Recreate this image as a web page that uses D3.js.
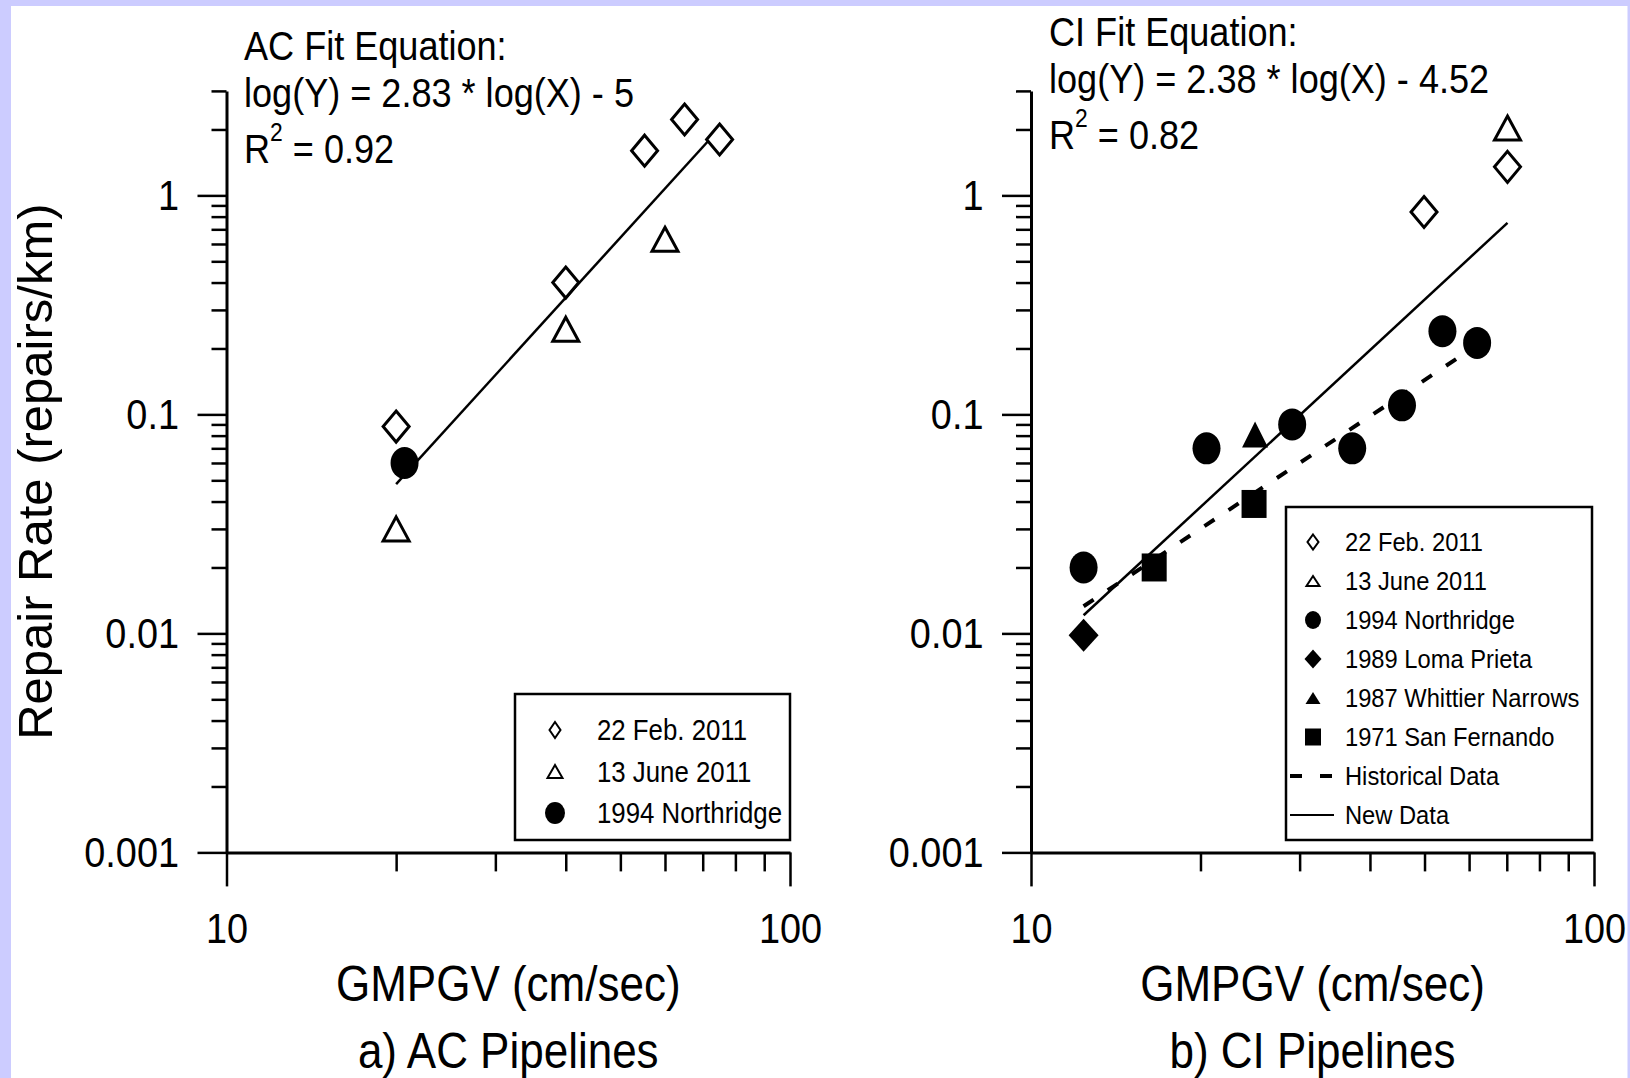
<!DOCTYPE html>
<html>
<head>
<meta charset="utf-8">
<script src="https://cdn.jsdelivr.net/npm/d3@7"></script>
<style>
  html, body { margin: 0; padding: 0; background: #ccccff; }
  svg { display: block; }
  text { font-family: "Liberation Sans", Arial, sans-serif; fill: #000; }
</style>
</head>
<body>
<div id="chart"></div>
<script>
// --- DONNEES ---

const xMajorTicks = [10, 100];
const xTickLabels = ["10", "100"];
const yMajorTicks = [0.001, 0.01, 0.1, 1];
const yTickLabels = ["0.001", "0.01", "0.1", "1"];

// a) AC : [GMPGV, taux de réparation]
const acFeb2011 = [[20, 0.088], [40, 0.40], [55.2, 1.6], [65, 2.22], [75, 1.8]];
const acJune2011 = [[20, 0.03], [40, 0.245], [60, 0.63]];
const acNorthridge = [[20.7, 0.06]];
const acFitLine = [[20, 0.048], [75, 2.02]];

// b) CI
const ciFeb2011 = [[49.9, 0.84], [70.2, 1.35]];
const ciJune2011 = [[70.2, 2.03]];
const ciNorthridge = [[12.4, 0.02], [20.5, 0.07], [29.1, 0.09], [37.2, 0.07], [45.6, 0.11], [53.8, 0.24], [62, 0.212]];
const ciLomaPrieta = [[12.4, 0.0098]];
const ciWhittier = [[25, 0.081]];
const ciSanFernando = [[16.55, 0.02], [24.9, 0.039]];
const ciNewFit = [[12.4, 0.0121], [70.2, 0.749]];
const ciHistoricalFit = [[12.4, 0.0133], [62, 0.207]];

const acEquation = ["AC Fit Equation:", "log(Y) = 2.83 * log(X) - 5", " = 0.92"];
const ciEquation = ["CI Fit Equation:", "log(Y) = 2.38 * log(X) - 4.52", " = 0.82"];
const acLegend = ["22 Feb. 2011", "13 June 2011", "1994 Northridge"];
const ciLegend = ["22 Feb. 2011", "13 June 2011", "1994 Northridge", "1989 Loma Prieta",
                  "1987 Whittier Narrows", "1971 San Fernando", "Historical Data", "New Data"];
const xTitle = "GMPGV (cm/sec)";
const yTitle = "Repair Rate (repairs/km)";
const panelTitles = ["a) AC Pipelines", "b) CI Pipelines"];


// --- DESSIN ---

const W = 1630, H = 1078;
const narrow = 0.88;   // police étroite façon Arial Narrow

const svg = d3.select("#chart").append("svg")
    .attr("width", W)
    .attr("height", H);

svg.append("rect").attr("x", 11).attr("y", 6).attr("width", W - 11).attr("height", H - 6).attr("fill", "#fff");

const yScale = d3.scaleLog().domain([0.001, 3]).range([852.4, 90.9]);
const axisY = yScale(0.001);

/**
 * Texte compressé horizontalement
 */
function label(g, x, y, str, size, anchor, sx) {
    return g.append("text")
        .attr("transform", "translate(" + x + "," + y + ") scale(" + sx + ",1)")
        .attr("text-anchor", anchor)
        .style("font-size", size + "px")
        .text(str);
}

/**
 * Dessin d'un marqueur centré sur (cx, cy)
 */
function marker(g, type, cx, cy, w, h, sw) {
    const open = type.startsWith("open");
    let m;
    if (type === "circle") {
        m = g.append("ellipse").attr("cx", cx).attr("cy", cy).attr("rx", w / 2).attr("ry", h / 2);
    } else if (type === "square") {
        m = g.append("rect").attr("x", cx - w / 2).attr("y", cy - h / 2).attr("width", w).attr("height", h);
    } else {
        const d = type.endsWith("iamond") || type === "diamond"
            ? "M0," + (-h / 2) + "L" + (w / 2) + ",0L0," + (h / 2) + "L" + (-w / 2) + ",0Z"
            : "M0," + (-h / 2) + "L" + (w / 2) + "," + (h / 2) + "L" + (-w / 2) + "," + (h / 2) + "Z";
        m = g.append("path").attr("d", d).attr("transform", "translate(" + cx + "," + cy + ")");
    }
    m.attr("fill", open ? "#fff" : "#000")
     .attr("stroke", open ? "#000" : "none")
     .attr("stroke-width", open ? sw : 0)
     .attr("stroke-linejoin", "miter");
}

const plotSizes = {openDiamond: [26, 31], openTriangle: [26, 24], circle: [28, 32],
                   diamond: [30, 33], triangle: [26, 26], square: [25, 28]};

const isMajor = v => Math.abs(Math.log10(v) - Math.round(Math.log10(v))) < 1e-6;

function drawPanel(cfg) {
    const g = svg.append("g");
    const xScale = d3.scaleLog().domain([10, 100]).range([cfg.x0, cfg.x1]);

    // Axes : graduations majeures + mineures
    const yMajor = g.append("g").attr("transform", "translate(" + cfg.x0 + ",0)")
        .call(d3.axisLeft(yScale).tickValues(yMajorTicks).tickFormat((d, i) => yTickLabels[i])
            .tickSize(29).tickSizeOuter(0).tickPadding(25));
    const yMinor = g.append("g").attr("transform", "translate(" + cfg.x0 + ",0)")
        .call(d3.axisLeft(yScale).tickValues(yScale.ticks().filter(v => !isMajor(v)))
            .tickFormat("").tickSize(15).tickSizeOuter(0));
    const xMajor = g.append("g").attr("transform", "translate(0," + axisY + ")")
        .call(d3.axisBottom(xScale).tickValues(xMajorTicks).tickFormat((d, i) => xTickLabels[i])
            .tickSize(34).tickSizeOuter(0).tickPadding(26));
    const xMinor = g.append("g").attr("transform", "translate(0," + axisY + ")")
        .call(d3.axisBottom(xScale).tickValues(xScale.ticks().filter(v => !isMajor(v)))
            .tickFormat("").tickSize(19).tickSizeOuter(0));

    [yMajor, yMinor, xMajor, xMinor].forEach(a => {
        a.attr("font-size", null).attr("font-family", null);
        a.select(".domain").attr("stroke", "#000").attr("stroke-width", 3);
        a.selectAll(".tick line").attr("stroke", "#000").attr("stroke-width", 2.5);
        a.selectAll(".tick text").attr("fill", "#000").style("font-size", "43px")
            .attr("transform", "scale(" + narrow + ",1)");
    });
    yMinor.select(".domain").remove();
    xMinor.select(".domain").remove();

    // Droites d'ajustement
    const line = d3.line().x(d => xScale(d[0])).y(d => yScale(d[1]));
    cfg.fits.forEach(f => {
        g.append("path").attr("d", line(f.data)).attr("fill", "none")
            .attr("stroke", "#000").attr("stroke-width", f.width)
            .attr("stroke-dasharray", f.dash);
    });

    // Points
    cfg.series.forEach(s => {
        const sz = plotSizes[s.type];
        s.data.forEach(d => marker(g, s.type, xScale(d[0]), yScale(d[1]), sz[0], sz[1], 3));
    });

    // Equation
    const eq = cfg.equation;
    label(g, cfg.eqX, cfg.eqY[0], eq[0], 41, "start", narrow);
    label(g, cfg.eqX, cfg.eqY[1], eq[1], 41, "start", narrow);
    const r2 = label(g, cfg.eqX, cfg.eqY[2], "", 41, "start", narrow);
    r2.append("tspan").text("R");
    r2.append("tspan").attr("dy", -22).style("font-size", "26px").text("2");
    r2.append("tspan").attr("dy", 22).text(eq[2]);

    // Légende
    const L = cfg.legend;
    g.append("rect").attr("x", L.box[0]).attr("y", L.box[1])
        .attr("width", L.box[2] - L.box[0]).attr("height", L.box[3] - L.box[1])
        .attr("fill", "#fff").attr("stroke", "#000").attr("stroke-width", 2.5);
    L.items.forEach((it, i) => {
        const cy = L.y0 + i * L.step;
        if (it.type === "dash" || it.type === "solid") {
            g.append("line").attr("x1", L.lineX[0]).attr("x2", L.lineX[1])
                .attr("y1", cy).attr("y2", cy).attr("stroke", "#000")
                .attr("stroke-width", it.type === "dash" ? 4 : 2)
                .attr("stroke-dasharray", it.type === "dash" ? "12,18" : null);
        } else {
            marker(g, it.type, L.markerX, cy, it.size[0], it.size[1], 2);
        }
        label(g, L.textX, cy + 0.36 * L.font, L.labels[i], L.font, "start", L.sx);
    });

    // Titres
    label(g, (cfg.x0 + cfg.x1) / 2, 1001, xTitle, 50, "middle", narrow);
    label(g, (cfg.x0 + cfg.x1) / 2, 1068, cfg.title, 50, "middle", narrow);
}

drawPanel({
    x0: 226.5, x1: 790,
    title: panelTitles[0],
    equation: acEquation, eqX: 244, eqY: [60, 107, 163],
    fits: [{data: acFitLine, width: 2.5, dash: null}],
    series: [
        {data: acFeb2011, type: "openDiamond"},
        {data: acJune2011, type: "openTriangle"},
        {data: acNorthridge, type: "circle"}
    ],
    legend: {
        box: [515, 694, 790, 840], markerX: 555, textX: 597, y0: 730, step: 41.5,
        font: 29, sx: 0.89, lineX: [0, 0], labels: acLegend,
        items: [{type: "openDiamond", size: [11, 16]}, {type: "openTriangle", size: [15, 13]},
                {type: "circle", size: [20, 22]}]
    }
});

drawPanel({
    x0: 1031, x1: 1594,
    title: panelTitles[1],
    equation: ciEquation, eqX: 1049, eqY: [46, 93, 149],
    fits: [{data: ciHistoricalFit, width: 4, dash: "12,17"},
           {data: ciNewFit, width: 2.5, dash: null}],
    series: [
        {data: ciFeb2011, type: "openDiamond"},
        {data: ciJune2011, type: "openTriangle"},
        {data: ciNorthridge, type: "circle"},
        {data: ciLomaPrieta, type: "diamond"},
        {data: ciWhittier, type: "triangle"},
        {data: ciSanFernando, type: "square"}
    ],
    legend: {
        box: [1286, 507, 1592, 840], markerX: 1313, textX: 1345, y0: 542, step: 39,
        font: 25.5, sx: 0.93, lineX: [1290, 1334], labels: ciLegend,
        items: [{type: "openDiamond", size: [11, 15]}, {type: "openTriangle", size: [13, 10]},
                {type: "circle", size: [16, 18]}, {type: "diamond", size: [17, 19]},
                {type: "triangle", size: [15, 12]}, {type: "square", size: [16, 17]},
                {type: "dash"}, {type: "solid"}]
    }
});

// Titre de l'axe des y
svg.append("text")
    .attr("transform", "translate(52," + ((yScale(0.001) + yScale(3)) / 2) + ") rotate(-90)")
    .attr("text-anchor", "middle")
    .style("font-size", "49px")
    .text(yTitle);

// Bande du cadre à droite
svg.append("rect").attr("x", 1627.5).attr("y", 0).attr("width", 3).attr("height", H).attr("fill", "#ccccff");
</script>
</body>
</html>
